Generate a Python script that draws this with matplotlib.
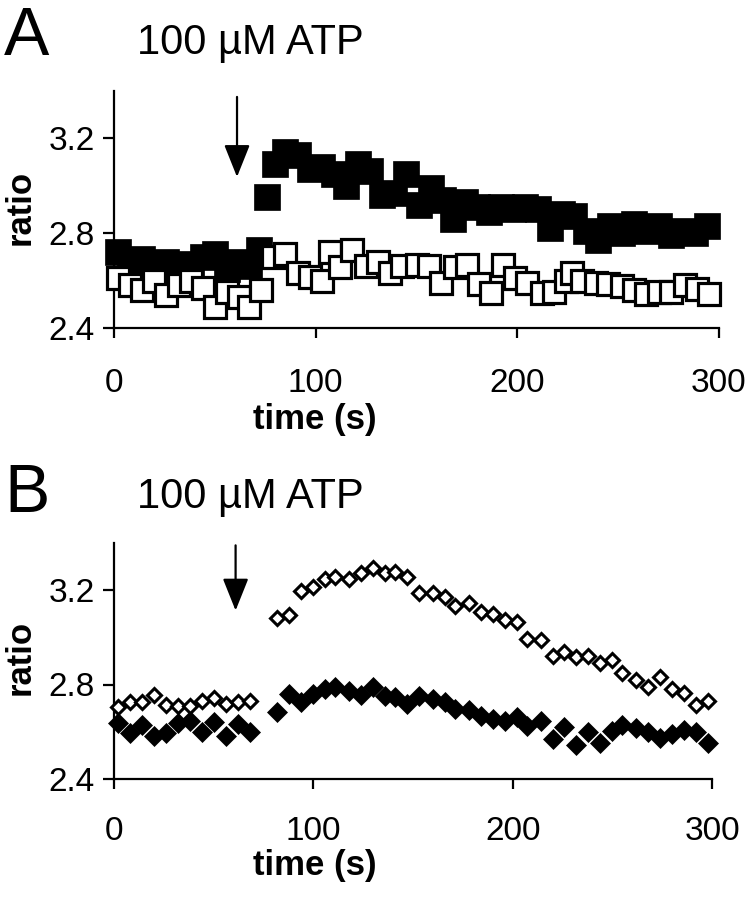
import matplotlib
matplotlib.use('Agg')
import matplotlib.pyplot as plt

plt.rcParams['font.family'] = ['Liberation Sans', 'DejaVu Sans']

# ---------------- data ----------------
x_ticks = [0, 100, 200, 300]
y_ticks = [2.4, 2.8, 3.2]
y_tick_labels = ['2.4', '2.8', '3.2']
atp_time = 61

# Panel A: filled squares
a_filled_t = [2, 8, 14, 20, 26, 32, 38, 44, 50, 56, 62, 67, 72,
              76, 80, 85, 91, 97, 103, 109, 115, 121, 127, 133, 139, 145,
              151, 157, 163, 168, 174, 180, 186, 192, 198, 204, 210, 216,
              222, 228, 234, 240, 246, 252, 258, 264, 270, 276, 282, 288, 294]
a_filled_v = [2.72, 2.64, 2.69, 2.62, 2.68, 2.64, 2.67, 2.70, 2.71, 2.65, 2.68, 2.66, 2.73,
              2.95, 3.09, 3.14, 3.13, 3.07, 3.08, 3.05, 3.00, 3.09, 3.06, 2.96, 2.97, 3.05,
              2.92, 2.99, 2.94, 2.86, 2.93, 2.91, 2.89, 2.91, 2.90, 2.91, 2.90, 2.82,
              2.88, 2.87, 2.81, 2.77, 2.83, 2.80, 2.84, 2.81, 2.83, 2.79, 2.81, 2.80, 2.83]

# Panel A: open squares
a_open_t = [2, 8, 14, 20, 26, 32, 38, 44, 50, 56, 62, 67, 73,
            79, 85, 91, 97, 103, 107, 112, 118, 125, 131, 137, 143, 150,
            156, 162, 169, 175, 181, 187, 193, 199, 205, 212, 218, 224,
            227, 232, 239, 245, 252, 258, 264, 270, 276, 283, 289, 295]
a_open_v = [2.61, 2.58, 2.56, 2.60, 2.54, 2.58, 2.60, 2.57, 2.49, 2.55, 2.53, 2.49, 2.56,
            2.70, 2.71, 2.63, 2.615, 2.60, 2.72, 2.655, 2.73, 2.66, 2.68, 2.63, 2.66, 2.665,
            2.66, 2.59, 2.655, 2.665, 2.585, 2.547, 2.665, 2.61, 2.59, 2.547, 2.55, 2.60,
            2.63, 2.60, 2.59, 2.585, 2.575, 2.56, 2.543, 2.55, 2.55, 2.58, 2.565, 2.545]

# Panel B
b_t = [2, 8, 14, 20, 26, 32, 38, 44, 50, 56, 62, 68,
       82, 88, 94, 100, 106, 111, 118, 124, 130, 136, 141, 147, 153, 160, 166,
       171, 178, 184, 190, 196, 202, 207, 214, 220, 226, 232, 238, 244, 250,
       255, 262, 268, 274, 280, 286, 292, 298]
b_open_v = [2.706, 2.728, 2.725, 2.757, 2.715, 2.711, 2.711, 2.729, 2.743, 2.718, 2.725, 2.732,
            3.080, 3.094, 3.197, 3.214, 3.245, 3.257, 3.245, 3.271, 3.292, 3.274, 3.278, 3.254,
            3.186, 3.186, 3.172, 3.132, 3.143, 3.108, 3.098, 3.072, 3.065, 2.994, 2.990,
            2.919, 2.937, 2.916, 2.919, 2.891, 2.905, 2.848, 2.820, 2.789, 2.831, 2.782,
            2.763, 2.715, 2.732]
b_filled_v = [2.635, 2.593, 2.630, 2.583, 2.593, 2.635, 2.647, 2.601, 2.640, 2.583, 2.633, 2.597,
              2.682, 2.760, 2.725, 2.760, 2.782, 2.789, 2.772, 2.757, 2.789, 2.753, 2.746, 2.718,
              2.753, 2.739, 2.725, 2.696, 2.692, 2.668, 2.654, 2.647, 2.661, 2.626, 2.647,
              2.569, 2.621, 2.545, 2.601, 2.554, 2.604, 2.628, 2.616, 2.601, 2.573, 2.590,
              2.607, 2.597, 2.554]

# ---------------- figure ----------------
W, H = 752, 900
fig = plt.figure(figsize=(W / 100, H / 100), dpi=100)


def fx(px):
    return px / W


def fy(py):
    return 1 - py / H


axA = fig.add_axes([fx(114), fy(328), fx(719) - fx(114), fy(90.5) - fy(328)])
axB = fig.add_axes([fx(114), fy(779), fx(712) - fx(114), fy(542.75) - fy(779)])

for ax in (axA, axB):
    ax.set_xlim(0, 300)
    ax.set_ylim(2.4, 3.4)
    ax.spines['top'].set_visible(False)
    ax.spines['right'].set_visible(False)
    for s in ('left', 'bottom'):
        ax.spines[s].set_linewidth(1.6)
    ax.set_xticks(x_ticks)
    ax.set_yticks(y_ticks)
    ax.set_yticklabels(y_tick_labels)
    ax.tick_params(axis='both', direction='out', width=1.6, labelsize=24)
    ax.tick_params(axis='y', length=8, pad=6)
    ax.tick_params(axis='x', length=7, pad=22)
axB.tick_params(axis='x', pad=20)

# Panel A markers
axA.plot(a_filled_t, a_filled_v, linestyle='none', marker='s', markersize=18.5,
         markerfacecolor='black', markeredgecolor='black', markeredgewidth=0.5,
         clip_on=False, zorder=3)
axA.plot(a_open_t, a_open_v, linestyle='none', marker='s', markersize=15.5,
         markerfacecolor='white', markeredgecolor='black', markeredgewidth=2.3,
         clip_on=False, zorder=4)

# Panel B markers
axB.plot(b_t, b_filled_v, linestyle='none', marker='D', markersize=9.8,
         markerfacecolor='black', markeredgecolor='black', markeredgewidth=0.5,
         clip_on=False, zorder=3)
axB.plot(b_t, b_open_v, linestyle='none', marker='D', markersize=7.4,
         markerfacecolor='white', markeredgecolor='black', markeredgewidth=2.2,
         clip_on=False, zorder=4)

# arrows
arrow_style = dict(arrowstyle='-|>,head_length=1.0,head_width=0.4', lw=1.6,
                   color='black', mutation_scale=20, shrinkA=0, shrinkB=0)
axA.annotate('', xy=(atp_time, 3.036), xytext=(atp_time, 3.373),
             arrowprops=arrow_style, annotation_clip=False)
axB.annotate('', xy=(atp_time, 3.113), xytext=(atp_time, 3.389),
             arrowprops=arrow_style, annotation_clip=False)

# texts
fig.text(fx(4), fy(55), 'A', fontsize=49, va='baseline', ha='left')
fig.text(fx(4), fy(512), 'B', fontsize=49, va='baseline', ha='left')
fig.text(fx(137), fy(54), '100 \u00b5M ATP', fontsize=30, va='baseline', ha='left')
fig.text(fx(137), fy(508), '100 \u00b5M ATP', fontsize=30, va='baseline', ha='left')

fig.text(fx(20), fy(207), 'ratio', fontsize=25, fontweight='bold', rotation=90,
         va='center', ha='center')
fig.text(fx(20), fy(657), 'ratio', fontsize=25, fontweight='bold', rotation=90,
         va='center', ha='center')
fig.text(fx(315), fy(420), 'time (s)', fontsize=25, fontweight='bold',
         va='center', ha='center')
fig.text(fx(315), fy(866), 'time (s)', fontsize=25, fontweight='bold',
         va='center', ha='center')

fig.savefig('out.png', dpi=100)
